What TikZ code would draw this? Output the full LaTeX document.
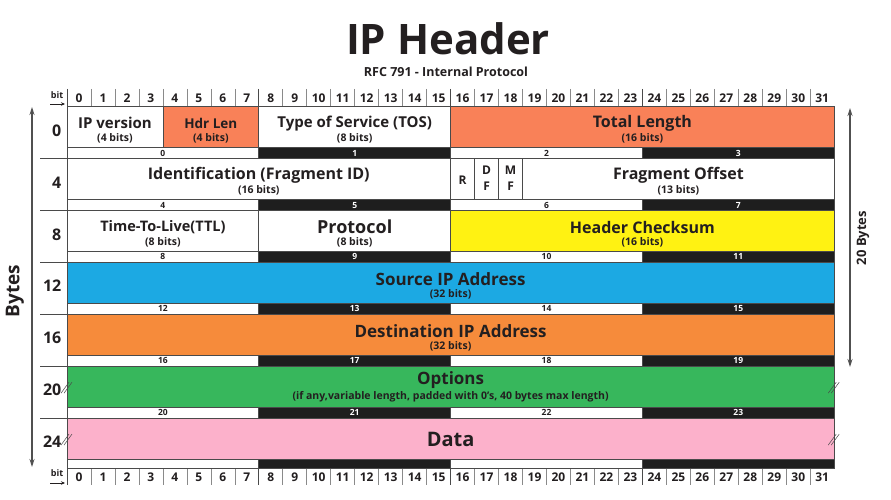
\documentclass[tikz,border=0pt]{standalone}
\usepackage{fontspec}
\setmainfont{Open Sans}
\usetikzlibrary{arrows.meta}
\definecolor{salmon}{HTML}{F98158}
\definecolor{ylw}{HTML}{FFF212}
\definecolor{blu}{HTML}{1CA9E3}
\definecolor{org}{HTML}{F68B3B}
\definecolor{grn}{HTML}{37B75C}
\definecolor{pnk}{HTML}{FCB1CB}
\definecolor{ink}{HTML}{231F20}
\definecolor{stripc}{HTML}{1E1E1E}
\definecolor{gridc}{HTML}{4A4A4A}
\definecolor{tickc}{HTML}{8A8A8A}
\definecolor{dimc}{HTML}{505050}
\newcommand\fsz[1]{\fontsize{#1}{#1}\selectfont}
\def\cw{23.975}
\def\rh{51.9}
\def\Ytop{106.7}
\newcommand\field[8]{%
  \pgfmathsetmacro\xa{67+#3*\cw}%
  \pgfmathsetmacro\xb{67+(#4+1)*\cw}%
  \pgfmathsetmacro\ya{\Ytop+#2*\rh}%
  \pgfmathsetmacro\xm{(\xa+\xb)/2}%
  \path[fill=#5, gridline] (\xa,\ya) rectangle (\xb,\ya+41);
  \node[txt, font=\bfseries\fsz{#7}] (#1) at (\xm,\ya+16.5) {#6};
  \node[txt, font=\bfseries\fsz{10.5}] (#1-b) at (\xm,\ya+32) {#8};
}
\newcommand\flagbox[2]{%
  \pgfmathsetmacro\xa{67+#2*\cw}%
  \pgfmathsetmacro\xb{67+(#2+1)*\cw}%
  \pgfmathsetmacro\ya{\Ytop+\rh}%
  \pgfmathsetmacro\xm{(\xa+\xb)/2}%
  \path[fill=white, gridline] (\xa,\ya) rectangle (\xb,\ya+41);
}
\begin{document}
\begin{tikzpicture}[x=1pt,y=-1pt,
  txt/.style={text=ink, inner sep=0pt, anchor=center},
  gridline/.style={draw=gridc, line width=0.7pt},
  tick/.style={draw=tickc, line width=0.6pt},
  btick/.style={draw=gridc, line width=0.8pt},
  dim/.style={draw=dimc, line width=1.1pt, {Stealth[length=8pt,width=5pt]}-{Stealth[length=8pt,width=5pt]}},
  bitarrow/.style={draw=ink, line width=0.8pt, -{Stealth[length=4pt,width=3.5pt]}},
  brk/.style={draw=gridc, line width=0.5pt},
]
\useasboundingbox (0,0) rectangle (891,500);
\fill[white] (0,0) rectangle (891,500);

% title
\node[txt, anchor=base, font=\bfseries\fsz{42}] (title) at (448,55) {IP Header};
\node[txt, anchor=base, font=\bfseries\fsz{12.5}] (subtitle) at (446,77) {RFC 791 - Internal Protocol};

% bit scales
\foreach \b in {0,...,31} {
  \pgfmathsetmacro\xx{67+\b*\cw}
  \pgfmathsetmacro\xc{67+(\b+0.5)*\cw}
  \pgfmathtruncatemacro\m{mod(\b,8)}
  \ifnum\m=0
    \draw[btick] (\xx,89) -- (\xx,106.7);
    \draw[btick] (\xx,468) -- (\xx,485);
  \else
    \draw[tick] (\xx,89) -- (\xx,106.7);
    \draw[tick] (\xx,468) -- (\xx,485);
  \fi
  \node[txt, font=\bfseries\fsz{12}] (tb\b) at (\xc,98) {\b};
  \node[txt, font=\bfseries\fsz{12}] (bb\b) at (\xc,477.5) {\b};
}
\node[txt, font=\bfseries\fsz{9}] (bitT) at (57,95) {bit};
\coordinate (bitTa) at (50,104);
\coordinate (bitTb) at (65,104);
\draw[bitarrow] (bitTa) -- (bitTb);
\node[txt, font=\bfseries\fsz{9}] (bitB) at (57,473.5) {bit};
\coordinate (bitBa) at (50,483);
\coordinate (bitBb) at (65,483);
\draw[bitarrow] (bitBa) -- (bitBb);

% strips
\foreach \i in {0,...,6} {
  \pgfmathsetmacro\ya{\Ytop+\i*\rh+41}
  \pgfmathsetmacro\yb{min(\Ytop+(\i+1)*\rh,468)}
  \pgfmathsetmacro\ym{(\ya+\yb)/2}
  \foreach \j in {0,...,3} {
    \pgfmathsetmacro\xa{67+\j*8*\cw}
    \pgfmathsetmacro\xb{67+(\j+1)*8*\cw}
    \pgfmathsetmacro\xm{(\xa+\xb)/2}
    \pgfmathtruncatemacro\n{4*\i+\j}
    \ifodd\j
      \path[fill=stripc, gridline] (\xa,\ya) rectangle (\xb,\yb);
      \ifnum\i<6 \node[txt, text=white, font=\bfseries\fsz{8.5}] (s\n) at (\xm,\ym) {\n}; \fi
    \else
      \path[fill=white, gridline] (\xa,\ya) rectangle (\xb,\yb);
      \ifnum\i<6 \node[txt, font=\bfseries\fsz{8.5}] (s\n) at (\xm,\ym) {\n}; \fi
    \fi
  }
}

% fields
\field{ipv}{0}{0}{3}{white}{IP version}{15}{(4 bits)}
\field{hdr}{0}{4}{7}{salmon}{Hdr Len}{13.5}{(4 bits)}
\field{tos}{0}{8}{15}{white}{Type of Service (TOS)}{15}{(8 bits)}
\field{tlen}{0}{16}{31}{salmon}{Total Length}{16}{(16 bits)}
\field{fid}{1}{0}{15}{white}{Identification (Fragment ID)}{16}{(16 bits)}
\flagbox{fr}{16}
\node[txt, font=\bfseries\fsz{12}] (fr) at (\xm,\ya+21.5) {R};
\flagbox{fdf}{17}
\node[txt, font=\bfseries\fsz{12}] (fdf1) at (\xm,\ya+12) {D};
\node[txt, font=\bfseries\fsz{12}] (fdf2) at (\xm,\ya+27.5) {F};
\flagbox{fmf}{18}
\node[txt, font=\bfseries\fsz{12}] (fmf1) at (\xm,\ya+12) {M};
\node[txt, font=\bfseries\fsz{12}] (fmf2) at (\xm,\ya+27.5) {F};
\field{fo}{1}{19}{31}{white}{Fragment Offset}{16}{(13 bits)}
\field{ttl}{2}{0}{7}{white}{Time-To-Live(TTL)}{14.5}{(8 bits)}
\field{proto}{2}{8}{15}{white}{Protocol}{18}{(8 bits)}
\field{hcs}{2}{16}{31}{ylw}{Header Checksum}{16}{(16 bits)}
\field{src}{3}{0}{31}{blu}{Source IP Address}{17}{(32 bits)}
\field{dst}{4}{0}{31}{org}{Destination IP Address}{17}{(32 bits)}
% options
\pgfmathsetmacro\ya{\Ytop+5*\rh}
\path[fill=grn, gridline] (67,\ya) rectangle (834.2,\ya+41);
\node[txt, font=\bfseries\fsz{17}] (opt) at (450.6,\ya+13.5) {Options};
\node[txt, font=\bfseries\fsz{10.5}] (opt-b) at (450.6,\ya+31) {(if any,variable length, padded with 0's, 40 bytes max length)};
% data
\pgfmathsetmacro\yd{\Ytop+6*\rh}
\path[fill=pnk, gridline] (67,\yd) rectangle (834.2,\yd+41);
\node[txt, font=\bfseries\fsz{20}] (data) at (450.6,\yd+21) {Data};

% break marks
\foreach \r in {5,6} {
  \pgfmathsetmacro\ym{\Ytop+\r*\rh+21}
  \foreach \x in {67,834.2} {
    \draw[brk] (\x-6,\ym+6) -- (\x+2,\ym-5);
    \draw[brk] (\x-3,\ym+6) -- (\x+5,\ym-5);
  }
}

% row labels and left extensions
\foreach \i in {0,...,6} {
  \pgfmathtruncatemacro\n{4*\i}
  \pgfmathsetmacro\yl{\Ytop+\i*\rh+23.8}
  \node[txt, anchor=east, font=\bfseries\fsz{16}] (rl\i) at (61.5,\yl) {\n};
}
\foreach \i in {1,...,6} {
  \pgfmathsetmacro\yl{\Ytop+\i*\rh}
  \draw[gridline] (40,\yl) -- (67,\yl);
}

% dimension arrows
\coordinate (lt) at (32,107);
\coordinate (lb) at (32,467);
\draw[dim] (lt) -- (lb);
\node[txt, rotate=90, font=\bfseries\fsz{19}] (bytes) at (15,291) {Bytes};
\coordinate (rt) at (850,108);
\coordinate (rb) at (850,367);
\draw[dim] (rt) -- (rb);
\node[txt, rotate=90, font=\bfseries\fsz{13}] (b20) at (863,238) {20 Bytes};
\end{tikzpicture}
\end{document}
